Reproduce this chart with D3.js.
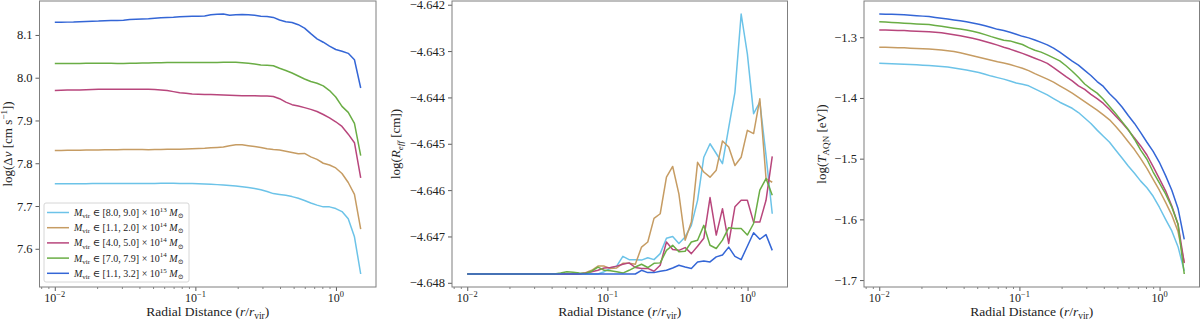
<!DOCTYPE html>
<html>
<head>
<meta charset="utf-8">
<script src="https://cdn.jsdelivr.net/npm/d3@7"></script>
<style>
  body { margin: 0; background: #fff; }
  svg { font-family: "Liberation Serif", "DejaVu Serif", serif; }
  text { white-space: pre; }
</style>
</head>
<body>
<svg id="chart" width="1200" height="320"></svg>
<script>
// radial bins (r / r_vir)
const radii = [0.0100, 0.01108, 0.01227, 0.01359, 0.01505, 0.01667, 0.01847, 0.02046, 0.02266, 0.02510,
  0.02780, 0.03080, 0.03411, 0.03779, 0.04186, 0.04636, 0.05136, 0.05689, 0.06301, 0.06980,
  0.07732, 0.08565, 0.09487, 0.1051, 0.1164, 0.1289, 0.1428, 0.1582, 0.1752, 0.1941,
  0.2150, 0.2381, 0.2638, 0.2922, 0.3236, 0.3585, 0.3971, 0.4398, 0.4872, 0.5397,
  0.5978, 0.6622, 0.7335, 0.8125, 0.9000, 0.9965, 1.104, 1.223, 1.354, 1.500];

// mass bins for the legend
const massRanges = ["[8.0, 9.0]", "[1.1, 2.0]", "[4.0, 5.0]", "[7.0, 7.9]", "[1.1, 3.2]"];
const massExps = ["13", "14", "14", "14", "15"];
const colors = ["#6cc3e8", "#c69c63", "#b8467c", "#6aad45", "#3466d6"];

// log(dv [cm/s])
const dv1 = [7.752, 7.752, 7.752, 7.752, 7.752, 7.7522, 7.7524, 7.7525, 7.7526, 7.7527,
  7.7528, 7.7528, 7.7527, 7.7526, 7.7525, 7.7526, 7.7528, 7.753, 7.7531, 7.753,
  7.7528, 7.7526, 7.7525, 7.752, 7.7515, 7.751, 7.750, 7.749, 7.748, 7.747,
  7.745, 7.743, 7.741, 7.738, 7.734, 7.729, 7.727, 7.725, 7.722, 7.718,
  7.713, 7.707, 7.702, 7.698, 7.698, 7.694, 7.687, 7.670, 7.628, 7.541];
const dv2 = [7.830, 7.830, 7.8302, 7.8304, 7.8306, 7.8308, 7.831, 7.8312, 7.8314, 7.8316,
  7.8318, 7.832, 7.8322, 7.8322, 7.832, 7.8318, 7.832, 7.8324, 7.8328, 7.833,
  7.833, 7.8335, 7.834, 7.8345, 7.835, 7.836, 7.837, 7.838, 7.841, 7.843,
  7.843, 7.841, 7.839, 7.837, 7.834, 7.832, 7.831, 7.828, 7.825, 7.822,
  7.823, 7.815, 7.809, 7.800, 7.796, 7.789, 7.776, 7.755, 7.727, 7.646];
const dv3 = [7.970, 7.9705, 7.971, 7.9712, 7.9715, 7.972, 7.9725, 7.973, 7.9732, 7.9733,
  7.9733, 7.9733, 7.9733, 7.9732, 7.973, 7.9728, 7.9722, 7.9715, 7.970, 7.9675,
  7.965, 7.9635, 7.962, 7.9615, 7.961, 7.9605, 7.960, 7.9595, 7.959, 7.9585,
  7.958, 7.958, 7.958, 7.957, 7.957, 7.956, 7.951, 7.943, 7.937, 7.934,
  7.930, 7.926, 7.921, 7.914, 7.906, 7.897, 7.886, 7.868, 7.848, 7.766];
const dv4 = [8.033, 8.033, 8.033, 8.0332, 8.0334, 8.0336, 8.0337, 8.0338, 8.0338, 8.0337,
  8.0335, 8.0334, 8.0336, 8.0339, 8.0342, 8.0346, 8.0349, 8.0351, 8.0353, 8.0354,
  8.0355, 8.0355, 8.0354, 8.0353, 8.0354, 8.0356, 8.0358, 8.0362, 8.0364, 8.036,
  8.035, 8.034, 8.032, 8.030, 8.029, 8.028, 8.022, 8.017, 8.011, 8.004,
  7.997, 7.991, 7.987, 7.981, 7.970, 7.955, 7.933, 7.919, 7.893, 7.818];
const dv5 = [8.1296, 8.1298, 8.130, 8.1303, 8.131, 8.1315, 8.132, 8.1325, 8.1335, 8.1337,
  8.134, 8.1345, 8.136, 8.1368, 8.1375, 8.138, 8.139, 8.140, 8.141, 8.1415,
  8.1425, 8.143, 8.1435, 8.144, 8.1445, 8.147, 8.1485, 8.149, 8.146, 8.147,
  8.148, 8.147, 8.146, 8.144, 8.143, 8.141, 8.135, 8.131, 8.129, 8.124,
  8.116, 8.103, 8.091, 8.083, 8.074, 8.066, 8.062, 8.057, 8.042, 7.976];

// log(R_eff [cm])
const reff1 = [-4.64781, -4.64781, -4.64781, -4.64781, -4.64781, -4.64781, -4.64781, -4.64781, -4.64781, -4.64781,
  -4.64781, -4.64781, -4.64781, -4.64781, -4.64781, -4.64781, -4.64781, -4.64781, -4.64781, -4.64781,
  -4.64781, -4.64781, -4.64776, -4.64769, -4.64764, -4.64743, -4.64750, -4.64750, -4.64751, -4.64746,
  -4.64750, -4.64737, -4.64704, -4.64700, -4.64715, -4.64701, -4.64676, -4.64622, -4.64529, -4.64500,
  -4.64521, -4.64543, -4.64465, -4.64389, -4.64220, -4.64306, -4.64435, -4.64410, -4.64525, -4.64651];
const reff2 = [-4.64781, -4.64781, -4.64781, -4.64781, -4.64781, -4.64781, -4.64781, -4.64781, -4.64781, -4.64781,
  -4.64781, -4.64781, -4.64781, -4.64781, -4.64781, -4.64781, -4.64781, -4.64781, -4.64781, -4.64778,
  -4.64773, -4.64764, -4.64764, -4.64769, -4.64768, -4.64758, -4.64758, -4.64760, -4.64723, -4.64712,
  -4.64661, -4.64651, -4.64572, -4.64549, -4.64608, -4.64708, -4.64669, -4.64540, -4.64561, -4.64572,
  -4.64557, -4.64494, -4.64507, -4.64547, -4.64529, -4.64471, -4.64478, -4.64403, -4.64575, -4.64583];
const reff3 = [-4.64781, -4.64781, -4.64781, -4.64781, -4.64781, -4.64781, -4.64781, -4.64781, -4.64781, -4.64781,
  -4.64781, -4.64781, -4.64781, -4.64781, -4.64781, -4.64781, -4.64781, -4.64781, -4.64781, -4.64779,
  -4.64776, -4.64773, -4.64768, -4.64767, -4.64764, -4.64760, -4.64757, -4.64767, -4.64769, -4.64769,
  -4.64775, -4.64762, -4.64712, -4.64728, -4.64730, -4.64724, -4.64737, -4.64721, -4.64704, -4.64616,
  -4.64697, -4.64640, -4.64715, -4.64636, -4.64622, -4.64622, -4.64669, -4.64669, -4.64622, -4.64527];
const reff4 = [-4.64781, -4.64781, -4.64781, -4.64781, -4.64781, -4.64781, -4.64781, -4.64781, -4.64781, -4.64781,
  -4.64781, -4.64781, -4.64781, -4.64781, -4.64781, -4.64779, -4.64776, -4.64777, -4.64779, -4.64780,
  -4.64775, -4.64766, -4.64773, -4.64774, -4.64776, -4.64779, -4.64773, -4.64766, -4.64760, -4.64767,
  -4.64758, -4.64757, -4.64730, -4.64719, -4.64733, -4.64732, -4.64712, -4.64708, -4.64676, -4.64719,
  -4.64726, -4.64708, -4.64681, -4.64683, -4.64683, -4.64697, -4.64672, -4.64600, -4.64575, -4.64611];
const reff5 = [-4.64781, -4.64781, -4.64781, -4.64781, -4.64781, -4.64781, -4.64781, -4.64781, -4.64781, -4.64781,
  -4.64781, -4.64781, -4.64781, -4.64781, -4.64781, -4.64781, -4.64781, -4.64781, -4.64781, -4.64781,
  -4.64781, -4.64781, -4.64781, -4.64781, -4.64781, -4.64781, -4.64781, -4.64781, -4.64773, -4.64778,
  -4.64778, -4.64775, -4.64773, -4.64768, -4.64762, -4.64766, -4.64769, -4.64755, -4.64753, -4.64755,
  -4.64744, -4.64740, -4.64723, -4.64743, -4.64750, -4.64721, -4.64692, -4.64706, -4.64696, -4.64730];

// log(T_AQN [eV])
const temp1 = [-1.3427, -1.3431, -1.3436, -1.3440, -1.3445, -1.3450, -1.3455, -1.3460, -1.3465, -1.3472,
  -1.3480, -1.3492, -1.3505, -1.3522, -1.3540, -1.3560, -1.3580, -1.3610, -1.3640, -1.3665,
  -1.3690, -1.3720, -1.3755, -1.3775, -1.3800, -1.3850, -1.3900, -1.3950, -1.4010, -1.4070,
  -1.4120, -1.4170, -1.4240, -1.4330, -1.4420, -1.4530, -1.4630, -1.4730, -1.4860, -1.4990,
  -1.5120, -1.5240, -1.5370, -1.5480, -1.5620, -1.5800, -1.6000, -1.6190, -1.6450, -1.6850];
const temp2 = [-1.3164, -1.3166, -1.3169, -1.3172, -1.3175, -1.3180, -1.3185, -1.3190, -1.3195, -1.3202,
  -1.3210, -1.3222, -1.3235, -1.3257, -1.3280, -1.3305, -1.3330, -1.3355, -1.3380, -1.3405,
  -1.3425, -1.3450, -1.3480, -1.3510, -1.3550, -1.3600, -1.3645, -1.3690, -1.3740, -1.3800,
  -1.3860, -1.3920, -1.3990, -1.4060, -1.4130, -1.4200, -1.4280, -1.4360, -1.4470, -1.4590,
  -1.4720, -1.4850, -1.5000, -1.5160, -1.5340, -1.5520, -1.5720, -1.5930, -1.6200, -1.6710];
const temp3 = [-1.2880, -1.2882, -1.2885, -1.2887, -1.2890, -1.2895, -1.2900, -1.2905, -1.2910, -1.2917,
  -1.2925, -1.2942, -1.2960, -1.2977, -1.2995, -1.3017, -1.3040, -1.3070, -1.3100, -1.3130,
  -1.3165, -1.3195, -1.3230, -1.3265, -1.3305, -1.3345, -1.3385, -1.3430, -1.3500, -1.3575,
  -1.3650, -1.3720, -1.3800, -1.3860, -1.3940, -1.4010, -1.4090, -1.4190, -1.4300, -1.4410,
  -1.4530, -1.4660, -1.4790, -1.4940, -1.5130, -1.5330, -1.5530, -1.5780, -1.6080, -1.6720];
const temp4 = [-1.2744, -1.2750, -1.2757, -1.2763, -1.2770, -1.2775, -1.2780, -1.2785, -1.2790, -1.2805,
  -1.2820, -1.2835, -1.2850, -1.2865, -1.2880, -1.2902, -1.2925, -1.2957, -1.2990, -1.3020,
  -1.3050, -1.3060, -1.3090, -1.3120, -1.3170, -1.3215, -1.3245, -1.3290, -1.3340, -1.3390,
  -1.3470, -1.3560, -1.3660, -1.3770, -1.3850, -1.3920, -1.4020, -1.4140, -1.4260, -1.4390,
  -1.4520, -1.4680, -1.4860, -1.5010, -1.5220, -1.5400, -1.5580, -1.5800, -1.6080, -1.6900];
const temp5 = [-1.2617, -1.2620, -1.2623, -1.2627, -1.2630, -1.2637, -1.2645, -1.2652, -1.2660, -1.2673,
  -1.2687, -1.2701, -1.2715, -1.2728, -1.2745, -1.2765, -1.2785, -1.2812, -1.2840, -1.2870,
  -1.2890, -1.2918, -1.2950, -1.2985, -1.3010, -1.3045, -1.3085, -1.3125, -1.3180, -1.3245,
  -1.3320, -1.3395, -1.3460, -1.3545, -1.3630, -1.3730, -1.3810, -1.3930, -1.4030, -1.4150,
  -1.4290, -1.4420, -1.4570, -1.4730, -1.4880, -1.5060, -1.5280, -1.5520, -1.5820, -1.6330];

const dvTicks = [7.6, 7.7, 7.8, 7.9, 8.0, 8.1];
const reffTicks = [-4.648, -4.647, -4.646, -4.645, -4.644, -4.643, -4.642];
const tempTicks = [-1.7, -1.6, -1.5, -1.4, -1.3];
const xTicks = [0.01, 0.1, 1];
const xTickExps = ["\u22122", "\u22121", "0"];

const svg = d3.select("#chart");
const plotTop = 1, plotBottom = 287;

// write text with italics / sub / superscripts as tspans
function addMath(t, parts, fs) {
  let base = 0;
  parts.forEach(([txt, kind]) => {
    const small = kind === "sub" || kind === "sup" || kind === "isub";
    const off = kind === "sup" ? -0.42 * fs : (small ? 0.22 * fs : 0);
    t.append("tspan")
      .attr("dy", off - base)
      .attr("font-size", small ? fs * 0.7 : fs)
      .attr("font-style", (kind === "i" || kind === "isub") ? "italic" : "normal")
      .text(txt);
    base = off;
  });
}

function drawPanel(x0, x1, series, yTicks, fmt, yLabel, labelX) {
  const g = svg.append("g");

  // matplotlib style 5% margins (log space for x)
  const lx = d3.extent(radii).map(Math.log10);
  const px = (lx[1] - lx[0]) * 0.05;
  const x = d3.scaleLog().domain([10 ** (lx[0] - px), 10 ** (lx[1] + px)]).range([x0, x1]);

  const ext = d3.extent(series.flat());
  const py = (ext[1] - ext[0]) * 0.05;
  const y = d3.scaleLinear().domain([ext[0] - py, ext[1] + py]).range([plotBottom, plotTop]);

  // minor ticks
  const minor = [];
  [0.001, 0.01, 0.1, 1].forEach(d => {
    for (let m = 2; m < 10; m++) {
      const v = d * m;
      if (v > x.domain()[0] && v < x.domain()[1]) minor.push(v);
    }
  });

  g.append("g")
    .attr("transform", `translate(0,${plotBottom})`)
    .call(d3.axisBottom(x).tickValues(minor).tickFormat("").tickSize(2).tickSizeOuter(0))
    .call(a => a.select(".domain").remove())
    .selectAll("line").attr("stroke", "#333").attr("stroke-width", 0.6);

  const xa = g.append("g")
    .attr("transform", `translate(0,${plotBottom})`)
    .call(d3.axisBottom(x).tickValues(xTicks).tickFormat("").tickSize(4).tickSizeOuter(0));
  xa.select(".domain").remove();
  xa.selectAll("line").attr("stroke", "#333").attr("stroke-width", 0.8);

  xTicks.forEach((v, i) => {
    const t = g.append("text")
      .attr("x", x(v))
      .attr("y", 302)
      .attr("text-anchor", "middle")
      .attr("fill", "#222");
    addMath(t, [["10", "r"], [xTickExps[i], "sup"]], 12);
  });

  const ya = g.append("g")
    .attr("transform", `translate(${x0},0)`)
    .call(d3.axisLeft(y).tickValues(yTicks).tickFormat(d3.format(fmt)).tickSize(4).tickPadding(3).tickSizeOuter(0));
  ya.select(".domain").remove();
  ya.selectAll("line").attr("stroke", "#333").attr("stroke-width", 0.8);
  ya.selectAll("text")
    .attr("font-family", "Liberation Serif, DejaVu Serif, serif")
    .attr("font-size", 12.5)
    .attr("fill", "#222");

  // lines
  const line = d3.line()
    .x((d, i) => x(radii[i]))
    .y(d => y(d));

  series.forEach((s, i) => {
    g.append("path")
      .datum(s)
      .attr("fill", "none")
      .attr("stroke", colors[i])
      .attr("stroke-width", 1.5)
      .attr("stroke-linejoin", "round")
      .attr("d", line);
  });

  // frame
  g.append("rect")
    .attr("x", x0).attr("y", plotTop)
    .attr("width", x1 - x0).attr("height", plotBottom - plotTop)
    .attr("fill", "none")
    .attr("stroke", "#7f7f7f")
    .attr("stroke-width", 1);

  // axis labels
  const xl = g.append("text")
    .attr("x", (x0 + x1) / 2)
    .attr("y", 316)
    .attr("text-anchor", "middle")
    .attr("fill", "#222");
  addMath(xl, [["Radial Distance (", "r"], ["r", "i"], ["/", "r"], ["r", "i"], ["vir", "sub"], [")", "r"]], 13.5);

  const yl = g.append("text")
    .attr("transform", `translate(${labelX},${(plotTop + plotBottom) / 2}) rotate(-90)`)
    .attr("text-anchor", "middle")
    .attr("fill", "#222");
  addMath(yl, yLabel, 13);

  return g;
}

const g1 = drawPanel(39.5, 376, [dv1, dv2, dv3, dv4, dv5], dvTicks, ".1f",
  [["log(\u0394", "r"], ["v", "i"], [" [cm s", "r"], ["\u22121", "sup"], ["])", "r"]], 12);
drawPanel(452, 787.5, [reff1, reff2, reff3, reff4, reff5], reffTicks, ".3f",
  [["log(", "r"], ["R", "i"], ["eff", "isub"], [" [cm])", "r"]], 400);
drawPanel(864, 1199.5, [temp1, temp2, temp3, temp4, temp5], tempTicks, ".1f",
  [["log(", "r"], ["T", "i"], ["AQN", "sub"], [" [eV])", "r"]], 826);

// legend
const leg = g1.append("g");
leg.append("rect")
  .attr("x", 44).attr("y", 203)
  .attr("width", 145).attr("height", 79)
  .attr("rx", 2)
  .attr("fill", "#fff").attr("fill-opacity", 0.8)
  .attr("stroke", "#d6d6d6").attr("stroke-width", 1);

massRanges.forEach((r, i) => {
  const yy = 212.5 + i * 15.2;
  leg.append("line")
    .attr("x1", 47).attr("x2", 69)
    .attr("y1", yy).attr("y2", yy)
    .attr("stroke", colors[i]).attr("stroke-width", 1.5);
  const t = leg.append("text")
    .attr("x", 74)
    .attr("y", yy + 3.5)
    .attr("fill", "#222");
  addMath(t, [["M", "i"], ["vir", "sub"], [" \u2208 " + r + " \u00d7 10", "r"], [massExps[i], "sup"], [" ", "r"], ["M", "i"], ["\u2299", "sub"]], 10);
});
</script>
</body>
</html>
